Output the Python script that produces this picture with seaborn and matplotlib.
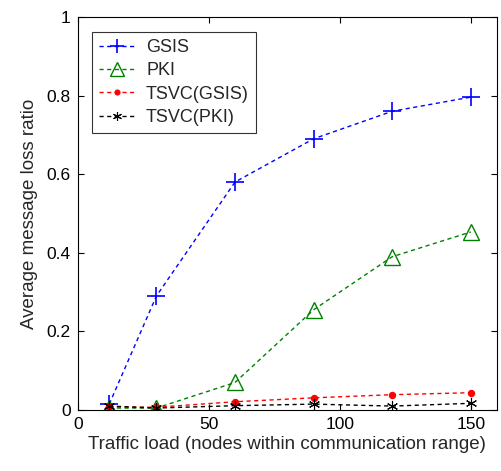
import matplotlib
matplotlib.use("Agg")
import matplotlib.pyplot as plt
import seaborn as sns
import pandas as pd

x = [12, 30, 60, 90, 120, 150]
gsis = [0.015, 0.29, 0.58, 0.69, 0.76, 0.796]
pki = [0.005, 0.005, 0.07, 0.255, 0.39, 0.453]
tsvc_gsis = [0.008, 0.007, 0.021, 0.031, 0.039, 0.044]
tsvc_pki = [0.01, 0.005, 0.011, 0.015, 0.01, 0.017]
series_names = ["GSIS", "PKI", "TSVC(GSIS)", "TSVC(PKI)"]
x_ticks = [0, 50, 100, 150]
y_ticks = [0, 0.2, 0.4, 0.6, 0.8, 1]
y_tick_labels = ["0", "0.2", "0.4", "0.6", "0.8", "1"]

sns.set_style("white")
plt.rcParams['font.family'] = ['Liberation Sans', 'DejaVu Sans']

fig = plt.figure(figsize=(5.02, 4.71), dpi=100)
ax = fig.add_axes([0.155, 0.1295, 0.835, 0.8345])

styles = [
    dict(color="#0000ff", marker="+", markersize=13, mew=1.2, mfc="none"),
    dict(color="#008000", marker="^", markersize=12, mew=1.0, mfc="none"),
    dict(color="#ff0000", marker="o", markersize=4.5, mew=0.8, mfc="#ff0000"),
    dict(color="#000000", marker=(6, 2, 0), markersize=8, mew=0.8, mfc="none"),
]
values = [gsis, pki, tsvc_gsis, tsvc_pki]
for name, vals, st in zip(series_names, values, styles):
    df = pd.DataFrame({"x": x, "y": vals})
    sns.lineplot(data=df, x="x", y="y", ax=ax, label=name, color=st["color"],
                 marker=st["marker"], markersize=st["markersize"],
                 markeredgewidth=st["mew"], markerfacecolor=st["mfc"],
                 markeredgecolor=st["color"], linewidth=1.0, estimator=None)
    ax.lines[-1].set_dashes((3, 2.5))

ax.set_xlim(0, 160)
ax.set_ylim(0, 1)
ax.set_xticks(x_ticks)
ax.set_yticks(y_ticks)
ax.set_yticklabels(y_tick_labels)
ax.tick_params(direction="in", length=4, width=0.8, labelsize=12.5, colors="black",
               top=True, right=True, bottom=True, left=True, pad=5)
for s in ax.spines.values():
    s.set_color("black")
    s.set_linewidth(0.8)
ax.set_xlabel("Traffic load (nodes within communication range)", fontsize=13.5, labelpad=3)
ax.set_ylabel("Average message loss ratio", fontsize=13.5, labelpad=6)

leg = ax.legend(loc="upper left", fontsize=13, frameon=True, fancybox=False,
                edgecolor="black", handlelength=2.0, handletextpad=0.6,
                borderpad=0.4, labelspacing=0.35,
                bbox_to_anchor=(0.012, 0.985))
leg.get_frame().set_linewidth(0.8)
for h in leg.legend_handles:
    h.set_markersize(h.get_markersize() * 0.8)

fig.savefig("out.png", dpi=100)
